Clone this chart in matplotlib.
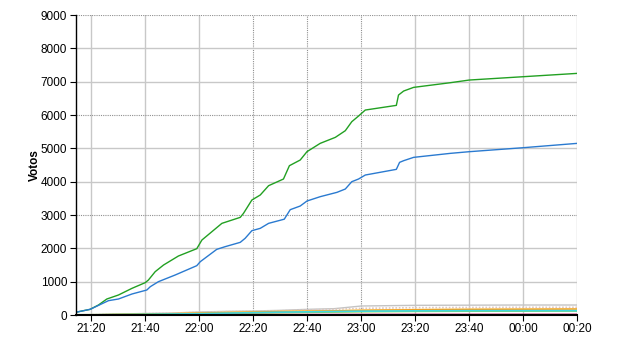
import matplotlib
matplotlib.use('Agg')
from matplotlib import pyplot as plt
import numpy as np

# minutes after 21:20
tick_labels = ['21:20', '21:40', '22:00', '22:20', '22:40', '23:00', '23:20', '23:40', '00:00', '00:20']

# green series
t_green = [-5.8, -0.4, 2.7, 5.8, 10.1, 15.1, 20, 21.2, 23.7, 26.8, 32.3, 39.1, 41, 48.4, 55.2, 56.4,
           59.5, 62.6, 65.7, 71.2, 73.4, 77.4, 79.9, 84.8, 90.4, 94.1, 96.5, 99, 101.5, 113, 113.8,
           115.7, 119.4, 133, 140, 160, 180]
v_green = [80, 170, 300, 480, 600, 800, 970, 1050, 1300, 1500, 1770, 1990, 2250, 2750, 2930, 3050,
           3450, 3600, 3880, 4080, 4480, 4650, 4900, 5150, 5330, 5530, 5800, 5970, 6150, 6290, 6600,
           6720, 6830, 6970, 7050, 7150, 7250]

# blue series
t_blue = [-5.8, -0.4, 6.4, 10.1, 15.1, 20.6, 21.9, 24.9, 31.1, 39.1, 40.4, 46.5, 49.6, 55.2, 57,
          59.5, 62.6, 65.7, 71.5, 73.7, 77.4, 79.9, 84.8, 91, 94.1, 96.5, 99, 101.5, 113, 114.2,
          115.7, 119.4, 133, 140, 160, 180]
v_blue = [80, 170, 430, 480, 630, 750, 850, 1000, 1200, 1480, 1600, 1970, 2050, 2180, 2300,
          2530, 2600, 2750, 2875, 3160, 3270, 3420, 3550, 3680, 3780, 4000, 4080, 4200, 4370, 4580,
          4630, 4730, 4850, 4900, 5020, 5150]

# small series
t_small = [-5.8, 0, 10, 20, 30, 40, 50, 60, 70, 80, 90, 100, 110, 120, 140, 160, 180]
v_gray = [0, 10, 30, 45, 60, 90, 110, 120, 140, 170, 190, 270, 280, 290, 295, 300, 300]
v_dotted = [0, 8, 25, 40, 55, 80, 100, 110, 125, 150, 170, 200, 210, 220, 225, 230, 230]
v_yellow = [0, 6, 18, 30, 45, 65, 80, 95, 110, 120, 130, 150, 160, 165, 172, 176, 180]
v_orange = [0, 5, 15, 25, 40, 60, 75, 90, 105, 115, 125, 140, 150, 160, 170, 175, 180]
v_cyan = [0, 3, 10, 18, 28, 40, 55, 70, 85, 95, 105, 115, 120, 125, 130, 130, 130]
v_lgreen = [10, 12, 18, 24, 30, 38, 45, 55, 65, 75, 85, 95, 100, 105, 110, 112, 115]
v_pink = [0, 1, 3, 5, 7, 9, 11, 13, 15, 17, 19, 21, 22, 23, 24, 25, 25]
v_dark = [0, 1, 2, 3, 4, 5, 6, 7, 8, 9, 10, 11, 12, 12, 13, 13, 13]

plt.rcParams['font.family'] = ['Liberation Sans', 'DejaVu Sans']
plt.rcParams['font.size'] = 8.5

fig = plt.figure(figsize=(6.4, 3.5), dpi=100)
ax = fig.add_axes([0.118, 0.1, 0.784, 0.857])

# grid: mostly solid light gray, some dotted darker
for i in range(len(tick_labels)):
    x = 20 * i
    if i in (3, 4, 5):
        ax.axvline(x, color='#909090', lw=0.8, ls=(0, (1, 1)), zorder=0)
    else:
        ax.axvline(x, color='#c8c8c8', lw=1, zorder=0)
for y in range(1000, 9001, 1000):
    if y % 3000 == 0:
        ax.axhline(y, color='#909090', lw=0.8, ls=(0, (1, 1)), zorder=0)
    else:
        ax.axhline(y, color='#c8c8c8', lw=1, zorder=0)

ax.plot(t_small, v_gray, color='#c4c4c4', lw=1)
ax.plot(t_small, v_dotted, color='#e0c8c0', lw=1.2, ls=(0, (1, 1)))
ax.plot(t_small, v_yellow, color='#ffd878', lw=1)
ax.plot(t_small, v_orange, color='#f0a020', lw=1)
ax.plot(t_small, v_lgreen, color='#90d050', lw=1)
ax.plot(t_small, v_cyan, color='#40d8e0', lw=1.2)
ax.plot(t_small, v_pink, color='#d04080', lw=1)
ax.plot(t_small, v_dark, color='#800020', lw=0.8)

ax.plot(t_green, v_green, color='#22a022', lw=1)
ax.plot(t_blue, v_blue, color='#2a7ad0', lw=1)

ax.set_xlim(-5.8, 180)
ax.set_ylim(0, 9000)
ax.set_xticks([20 * i for i in range(len(tick_labels))])
ax.set_xticklabels(tick_labels)
ax.set_yticks(range(0, 9001, 1000))
ax.tick_params(direction='out', length=4, width=0.8, color='black', pad=2)
ax.spines['top'].set_visible(False)
ax.spines['right'].set_visible(False)
ax.spines['left'].set_linewidth(1)
ax.spines['bottom'].set_linewidth(1.5)
ax.set_ylabel('Votos', fontweight='bold', fontsize=8.5, labelpad=0)

fig.savefig('out.png', dpi=100)
